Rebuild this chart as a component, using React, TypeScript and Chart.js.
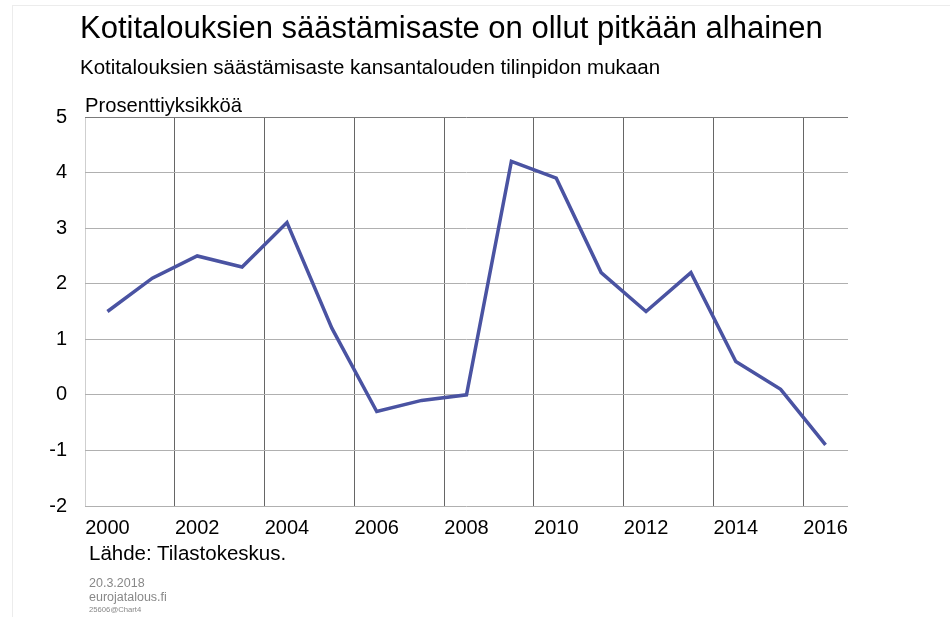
import React, { useEffect, useRef } from "react";
import { Chart, registerables } from "chart.js";

Chart.register(...registerables);

const years = ["2000","2001","2002","2003","2004","2005","2006","2007","2008","2009","2010","2011","2012","2013","2014","2015","2016"];
const savingRate = [1.5, 2.1, 2.5, 2.3, 3.1, 1.2, -0.3, -0.1, 0.0, 4.2, 3.9, 2.2, 1.5, 2.2, 0.6, 0.1, -0.9];
const yMin = -2;
const yMax = 5;

const titleText = "Kotitalouksien säästämisaste on ollut pitkään alhainen";
const subtitleText = "Kotitalouksien säästämisaste kansantalouden tilinpidon mukaan";
const unitText = "Prosenttiyksikköä";
const sourceText = "Lähde: Tilastokeskus.";
const dateText = "20.3.2018";
const siteText = "eurojatalous.fi";
const idText = "25606@Chart4";

const FONT = "'Liberation Sans', Arial, sans-serif";

function txt(top: number, left: number, size: number, color: string, text: string) {
  return (
    <div
      style={{
        position: "absolute",
        top,
        left,
        fontFamily: FONT,
        fontSize: size,
        lineHeight: 1,
        color,
        whiteSpace: "nowrap",
      }}
    >
      {text}
    </div>
  );
}

export default function App() {
  const canvasRef = useRef<HTMLCanvasElement | null>(null);

  useEffect(() => {
    if (!canvasRef.current) return;
    const chart = new Chart(canvasRef.current, {
      type: "line",
      data: {
        labels: years,
        datasets: [
          {
            data: savingRate,
            borderColor: "#4a53a2",
            borderWidth: 3.5,
            pointRadius: 0,
            tension: 0,
            fill: false,
          },
        ],
      },
      options: {
        animation: false,
        responsive: false,
        maintainAspectRatio: false,
        layout: { padding: { left: 0, top: 117, right: 102, bottom: 71 } },
        plugins: { legend: { display: false }, tooltip: { enabled: false }, title: { display: false } },
        scales: {
          x: {
            type: "category",
            offset: true,
            grid: {
              offset: true,
              drawTicks: false,
              lineWidth: 1,
              color: (ctx: any) => {
                const i = ctx.index;
                if (i === 0) return "#cfcfcf";
                if (i === years.length) return "#7a7a7a";
                return i % 2 === 0 ? "#666666" : "rgba(0,0,0,0)";
              },
            },
            border: { display: false },
            ticks: {
              autoSkip: false,
              maxRotation: 0,
              padding: 10,
              color: "#000",
              font: { family: FONT, size: 20 },
              callback: (_v: any, i: number) => (i % 2 === 0 ? years[i] : ""),
            },
            afterFit: (scale: any) => {
              scale.height = 40;
            },
          },
          y: {
            min: yMin,
            max: yMax,
            grid: {
              drawTicks: false,
              lineWidth: 1,
              color: (ctx: any) => {
                const v = ctx.tick ? ctx.tick.value : null;
                if (v === yMax) return "#7a7a7a";
                return "#b0b0b0";
              },
            },
            border: { display: false },
            ticks: {
              stepSize: 1,
              padding: 18,
              color: "#000",
              font: { family: FONT, size: 20 },
            },
            afterFit: (scale: any) => {
              scale.width = 85;
            },
          },
        },
      },
    });
    return () => chart.destroy();
  }, []);

  return (
    <div style={{ position: "absolute", left: 0, top: 0, width: 950, height: 617, background: "#fff", overflow: "hidden" }}>
      <div style={{ position: "absolute", left: 12, top: 5, width: 950, height: 617, borderLeft: "1px solid #ececec", borderTop: "1px solid #ececec" }} />
      <canvas ref={canvasRef} width={950} height={617} style={{ position: "absolute", left: 0, top: 0, width: 950, height: 617 }} />
      {txt(12, 80, 31, "#000", titleText)}
      {txt(57, 80, 20.5, "#000", subtitleText)}
      {txt(95, 85, 20.2, "#000", unitText)}
      {txt(542.5, 89, 20.5, "#000", sourceText)}
      {txt(576.5, 89, 12.5, "#888", dateText)}
      {txt(590.5, 89, 12.5, "#888", siteText)}
      {txt(606, 89, 7.7, "#888", idText)}
    </div>
  );
}
